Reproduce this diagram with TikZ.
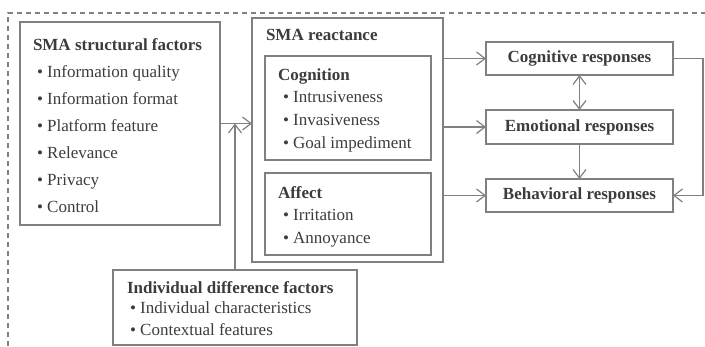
\documentclass[tikz,border=0pt]{standalone}
\usepackage{fontspec}
\setmainfont{Liberation Serif}
\usetikzlibrary{arrows.meta}
\definecolor{ln}{HTML}{808080}
\definecolor{tx}{HTML}{3C3C3C}
\begin{document}
\begin{tikzpicture}[x=1pt,y=-1pt, font=\fontsize{17}{20}\selectfont, text=tx,
 box/.style={draw=ln, line width=1.3pt, anchor=north west, inner sep=0pt, outer sep=0pt},
 txt/.style={anchor=base west, inner sep=0pt, outer sep=0pt},
 ttl/.style={txt, font=\fontsize{17}{20}\selectfont\bfseries},
 conn/.style={draw=ln, line width=1.2pt, -{Straight Barb[length=8.5pt,width=13pt]}},
 dconn/.style={draw=ln, line width=1.2pt, {Straight Barb[length=8.5pt,width=13pt]}-{Straight Barb[length=8.5pt,width=13pt]}},
]
\useasboundingbox (0,0) rectangle (705,346);
\draw[ln, line width=1.2pt, dash pattern=on 5pt off 4pt] (8,346) -- (8,13) -- (705,13);

% boxes
\node[box, minimum width=200pt, minimum height=203pt] (sf) at (20,22) {};
\node[box, minimum width=191pt, minimum height=244pt] (re) at (252,18) {};
\node[box, minimum width=166pt, minimum height=104pt] (cg) at (265,56) {};
\node[box, minimum width=166pt, minimum height=82pt] (af) at (265,173) {};
\node[box, minimum width=187pt, minimum height=33pt] (cr) at (486,42) {\bfseries Cognitive responses};
\node[box, minimum width=187pt, minimum height=34pt] (er) at (486,110) {\bfseries Emotional responses};
\node[box, minimum width=187pt, minimum height=33pt] (br) at (486,179) {\bfseries Behavioral responses};
\node[box, minimum width=244pt, minimum height=75pt] (id) at (113,270) {};

% texts: structural factors
\node[ttl] (sft) at (33,50) {SMA structural factors};
\node[txt] (sf1) at (37,77) {• Information quality};
\node[txt] (sf2) at (37,104) {• Information format};
\node[txt] (sf3) at (37,131) {• Platform feature};
\node[txt] (sf4) at (37,158) {• Relevance};
\node[txt] (sf5) at (37,185) {• Privacy};
\node[txt] (sf6) at (37,212) {• Control};

% reactance
\node[ttl] (ret) at (266,40) {SMA reactance};
\node[ttl] (cgt) at (278,80) {Cognition};
\node[txt] (cg1) at (283,102) {• Intrusiveness};
\node[txt] (cg2) at (283,125) {• Invasiveness};
\node[txt] (cg3) at (283,148) {• Goal impediment};
\node[ttl] (aft) at (278,198) {Affect};
\node[txt] (af1) at (283,220) {• Irritation};
\node[txt] (af2) at (283,243) {• Annoyance};

% individual difference
\node[ttl] (idt) at (127,293) {Individual difference factors};
\node[txt] (id1) at (130,313) {• Individual characteristics};
\node[txt] (id2) at (130,335) {• Contextual features};

% connectors
\draw[conn] (sf.east) -- (sf.east -| re.west);
\draw[conn] (id.north) -- (id.north |- sf.east);
\draw[conn] (re.east |- cr.west) -- (cr.west);
\draw[conn] (re.east |- er.west) -- (er.west);
\draw[conn] (re.east |- br.west) -- (br.west);
\draw[dconn] (cr.south) -- (er.north);
\draw[conn] (er.south) -- (br.north);
\draw[conn] (cr.east) -- ++(30,0) |- (br.east);
\end{tikzpicture}
\end{document}
